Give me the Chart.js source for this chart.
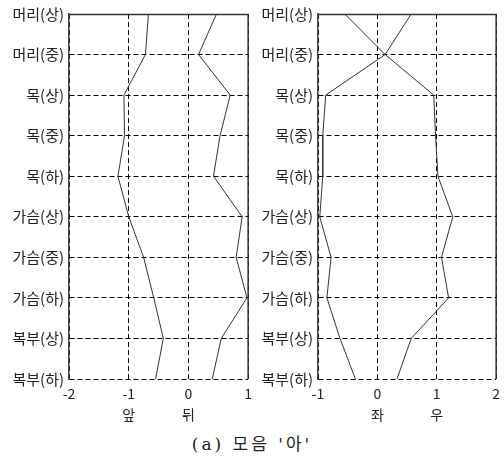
<!DOCTYPE html>
<html>
<head>
<meta charset="utf-8">
<script src="https://cdn.jsdelivr.net/npm/chart.js@4"></script>
<style>
  body { margin: 0; background: #fff; }
  #wrap { position: relative; width: 504px; height: 469px; }
  #left { position: absolute; left: 0; top: 0; }
  #right { position: absolute; left: 250px; top: 0; }
  #caption { position: absolute; left: 0; width: 504px; top: 430px; text-align: center;
    font-family: "DejaVu Serif", "Noto Sans CJK KR", serif; font-size: 17px; color: #222; letter-spacing: 3px; }
</style>
</head>
<body>
<div id="wrap">
  <canvas id="left" width="256" height="425"></canvas>
  <canvas id="right" width="254" height="425"></canvas>
  <div id="caption">(a) 모음 '아'</div>
</div>
<script>
// categories (top to bottom)
var parts = ['머리(상)', '머리(중)', '목(상)', '목(중)', '목(하)',
             '가슴(상)', '가슴(중)', '가슴(하)', '복부(상)', '복부(하)'];

// left panel: 앞 / 뒤
var front = [-0.67, -0.72, -1.08, -1.07, -1.18, -1.0, -0.75, -0.58, -0.42, -0.55];
var back  = [0.47, 0.17, 0.70, 0.53, 0.42, 0.90, 0.80, 0.98, 0.55, 0.40];

// right panel: 좌 / 우
var leftSide  = [-0.55, 0.13, -0.87, -0.92, -0.92, -0.97, -0.78, -0.85, -0.63, -0.37];
var rightSide = [0.57, 0.13, 0.95, 0.98, 1.02, 1.27, 1.08, 1.20, 0.57, 0.33];

var ticksLeft = { '-2': ['-2'], '-1': ['-1', '앞'], '0': ['0', '뒤'], '1': ['1'] };
var ticksRight = { '-1': ['-1'], '0': ['0', '좌'], '1': ['1', '우'], '2': ['2'] };

var fam = '"Noto Sans CJK KR", "DejaVu Sans", sans-serif';

// top + right frame lines
var frame = {
  id: 'frame',
  afterDraw: function(chart) {
    var a = chart.chartArea, c = chart.ctx;
    c.save();
    c.strokeStyle = '#333';
    c.lineWidth = 1.5;
    c.beginPath();
    c.moveTo(a.left, a.top + 0.5);
    c.lineTo(a.right, a.top + 0.5);
    c.lineTo(a.right, a.bottom);
    c.stroke();
    c.restore();
  }
};

function makeChart(id, s1, s2, xmin, xmax, tickMap, yWidth, padRight) {
  new Chart(document.getElementById(id), {
    type: 'line',
    data: {
      labels: parts,
      datasets: [
        { data: s1, borderColor: '#333', borderWidth: 1, pointRadius: 0, tension: 0 },
        { data: s2, borderColor: '#333', borderWidth: 1, pointRadius: 0, tension: 0 }
      ]
    },
    plugins: [frame],
    options: {
      indexAxis: 'y',
      responsive: false,
      animation: false,
      layout: { padding: { top: 13, right: padRight, left: 0, bottom: 0 } },
      plugins: { legend: { display: false }, tooltip: { enabled: false } },
      scales: {
        x: {
          type: 'linear', min: xmin, max: xmax,
          ticks: {
            stepSize: 1, color: '#222', padding: 4,
            font: { family: fam, size: 14, lineHeight: 1.5 },
            callback: function(v) { return tickMap[String(v)] || String(v); }
          },
          grid: { color: '#000', lineWidth: 1, drawTicks: false },
          border: { display: false, dash: [5, 3] },
          afterFit: function(s) { s.height = 425 - 379; }
        },
        y: {
          type: 'category', offset: false,
          ticks: { color: '#222', padding: 5, font: { family: fam, size: 15 } },
          grid: { color: '#000', lineWidth: 1, drawTicks: false },
          border: { display: true, color: '#444', width: 1.5, dash: [5, 3] },
          afterFit: function(s) { s.width = yWidth; }
        }
      }
    }
  });
}

makeChart('left', front, back, -2, 1, ticksLeft, 69, 7);
makeChart('right', leftSide, rightSide, -1, 2, ticksRight, 68, 6);
</script>
</body>
</html>
